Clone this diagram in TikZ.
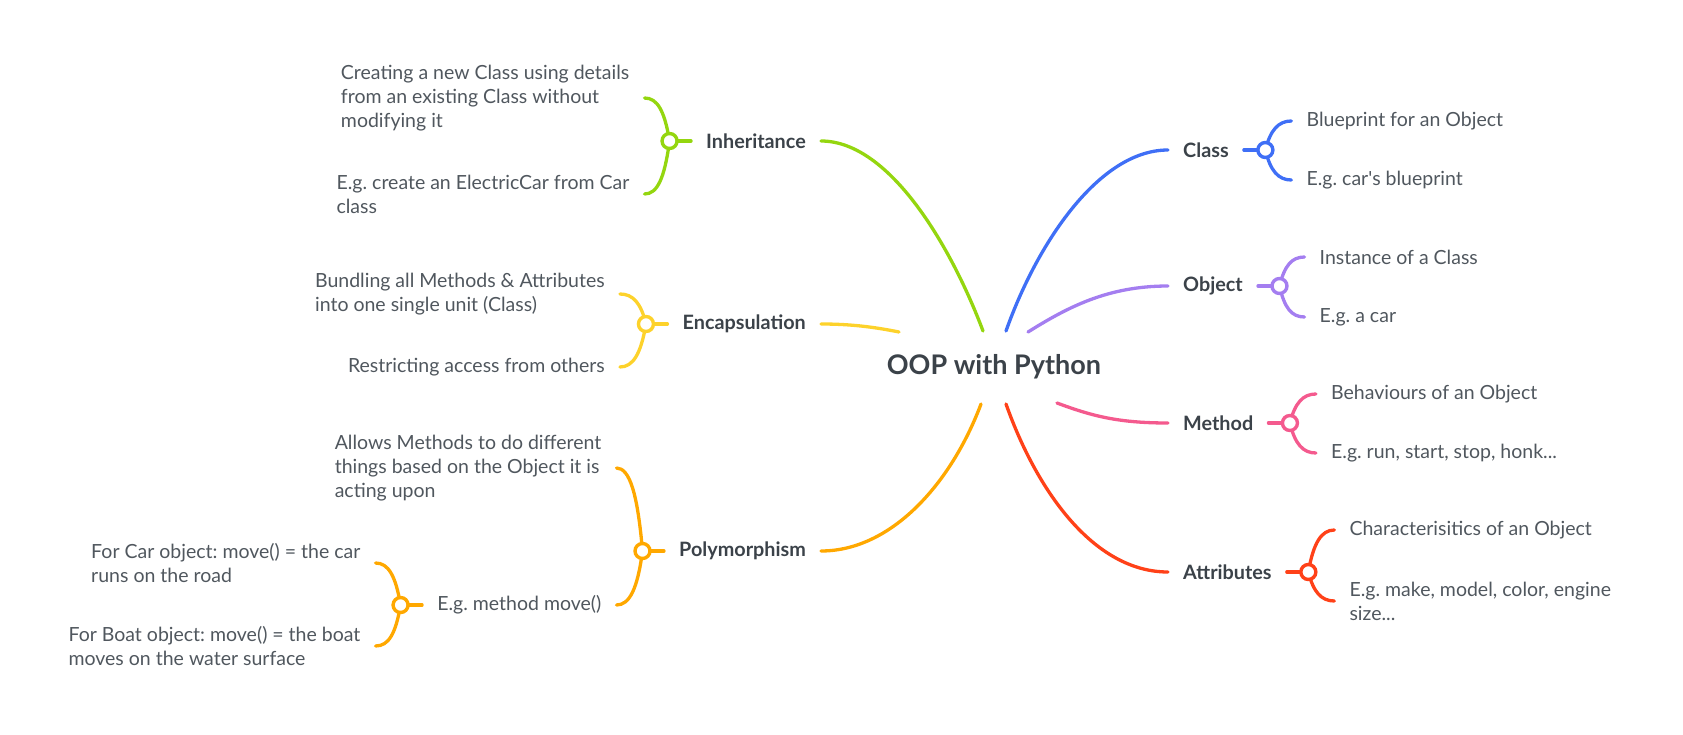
\documentclass[tikz,border=0pt]{standalone}
\usepackage{fontspec}
\setmainfont{Lato}
\usetikzlibrary{positioning, calc, backgrounds}

\definecolor{ink}{HTML}{3B4249}
\definecolor{txt}{HTML}{50575E}
\definecolor{cgreen}{HTML}{94D60F}
\definecolor{cblue}{HTML}{3F6FF6}
\definecolor{cpurple}{HTML}{A47EF0}
\definecolor{cyellow}{HTML}{FDD22B}
\definecolor{cpink}{HTML}{F45A8E}
\definecolor{corange}{HTML}{FFA800}
\definecolor{cred}{HTML}{FF4118}

\begin{document}
\frenchspacing
\begin{tikzpicture}[x=1pt, y=-1pt,
  root/.style={font=\fontsize{27}{30}\selectfont\bfseries, text=ink, inner sep=0pt},
  topic/.style={font=\fontsize{19.8}{22}\selectfont\bfseries, text=ink,
                inner xsep=15pt, inner ysep=0pt},
  leaf/.style={font=\fontsize{19.5}{24}\selectfont, text=txt, align=left,
               inner xsep=15pt, inner ysep=0pt},
  knot/.style={circle, draw=#1, fill=white, line width=3.4pt,
               minimum size=15pt, inner sep=0pt, outer sep=0pt},
  branch/.style={draw=#1, line width=3.3pt, line cap=round}
]
\useasboundingbox (0,0) rectangle (1683,735);

% centre
\node[root] (root) at (994,367) {OOP with Python};
\coordinate (r-inh) at (983,331);
\coordinate (r-cls) at (1006,331);
\coordinate (r-obj) at (1028,332);
\coordinate (r-enc) at (899,332);
\coordinate (r-pol) at (981,404);
\coordinate (r-att) at (1006,404);
\coordinate (r-mth) at (1057,403);

% right side
\node[topic, anchor=west] (cls) at (1168,150) {Class};
\node[topic, anchor=west] (obj) at (1168,286) {Object};
\node[topic, anchor=west] (mth) at (1168,423) {Method};
\node[topic, anchor=west] (att) at (1168,572) {Attributes};
\node[knot=cblue, right=14pt of cls] (cls-o) {};
\node[knot=cpurple, right=14pt of obj] (obj-o) {};
\node[knot=cpink, right=14pt of mth] (mth-o) {};
\node[knot=cred, right=14pt of att] (att-o) {};

\node[leaf, anchor=west] (cls-a) at ($(cls-o)+(26,-29)$) {Blueprint for an Object};
\node[leaf, anchor=west] (cls-b) at ($(cls-o)+(26,30)$) {E.g. car\textquotesingle s blueprint};
\node[leaf, anchor=west] (obj-a) at ($(obj-o)+(25,-29)$) {Instance of a Class};
\node[leaf, anchor=west] (obj-b) at ($(obj-o)+(25,31)$) {E.g. a car};
\node[leaf, anchor=west] (mth-a) at ($(mth-o)+(26,-29)$) {Behaviours of an Object};
\node[leaf, anchor=west] (mth-b) at ($(mth-o)+(26,30)$) {E.g. run, start, stop, honk...};
\node[leaf, anchor=west] (att-a) at ($(att-o)+(26,-42)$) {Characterisitics of an Object};
\node[leaf, anchor=west] (att-b) at ($(att-o)+(26,29)$) {E.g. make, model, color, engine\\size...};

% left side
\node[topic, anchor=east] (inh) at (821,141) {Inheritance};
\node[topic, anchor=east] (enc) at (821,324) {Encapsulation};
\node[topic, anchor=east] (pol) at (821,551) {Polymorphism};
\node[knot=cgreen, left=14pt of inh] (inh-o) {};
\node[knot=cyellow, left=14pt of enc] (enc-o) {};
\node[knot=corange, left=14pt of pol] (pol-o) {};

\node[leaf, anchor=east] (inh-a) at ($(inh-o)+(-25,-43)$) {Creating a new Class using details\\from an existing Class without\\modifying it};
\node[leaf, anchor=east] (inh-b) at ($(inh-o)+(-25,53)$) {E.g. create an ElectricCar from Car\\class};
\node[leaf, anchor=east] (enc-a) at ($(enc-o)+(-26,-30)$) {Bundling all Methods \& Attributes\\into one single unit (Class)};
\node[leaf, anchor=east] (enc-b) at ($(enc-o)+(-26,43)$) {Restricting access from others};
\node[leaf, anchor=east] (pol-a) at ($(pol-o)+(-26,-83)$) {Allows Methods to do different\\things based on the Object it is\\acting upon};
\node[leaf, anchor=east] (pol-b) at ($(pol-o)+(-26,54)$) {E.g. method move()};
\node[knot=corange, left=14pt of pol-b] (mov-o) {};
\node[leaf, anchor=east] (mov-a) at ($(mov-o)+(-25,-42)$) {For Car object: move() = the car\\runs on the road};
\node[leaf, anchor=east] (mov-b) at ($(mov-o)+(-25,41)$) {For Boat object: move() = the boat\\moves on the water surface};

\begin{scope}[on background layer]
% main branches
\draw[branch=cgreen] (inh.east) .. controls +(70,0) and +(-30,-80) .. (r-inh);
\draw[branch=cyellow] (enc.east) .. controls +(30,0) and +(-25,-5) .. (r-enc);
\draw[branch=corange] (pol.east) .. controls +(70,0) and +(-30,80) .. (r-pol);
\draw[branch=cblue] (r-cls) .. controls +(30,-85) and +(-70,0) .. (cls.west);
\draw[branch=cpurple] (r-obj) .. controls +(40,-25) and +(-60,0) .. (obj.west);
\draw[branch=cpink] (r-mth) .. controls +(35,13) and +(-50,0) .. (mth.west);
\draw[branch=cred] (r-att) .. controls +(30,85) and +(-75,0) .. (att.west);

% stems
\draw[branch=cblue] (cls.east) -- (cls-o);
\draw[branch=cpurple] (obj.east) -- (obj-o);
\draw[branch=cpink] (mth.east) -- (mth-o);
\draw[branch=cred] (att.east) -- (att-o);
\draw[branch=cgreen] (inh.west) -- (inh-o);
\draw[branch=cyellow] (enc.west) -- (enc-o);
\draw[branch=corange] (pol.west) -- (pol-o);
\draw[branch=corange] (pol-b.west) -- (mov-o);

% sub branches
\draw[branch=cblue] (cls-o.center) .. controls +(5,-20) and +(-13,0) .. (cls-a.west);
\draw[branch=cblue] (cls-o.center) .. controls +(5,21) and +(-13,0) .. (cls-b.west);
\draw[branch=cpurple] (obj-o.center) .. controls +(5,-20) and +(-13,0) .. (obj-a.west);
\draw[branch=cpurple] (obj-o.center) .. controls +(5,22) and +(-13,0) .. (obj-b.west);
\draw[branch=cpink] (mth-o.center) .. controls +(5,-20) and +(-13,0) .. (mth-a.west);
\draw[branch=cpink] (mth-o.center) .. controls +(5,21) and +(-13,0) .. (mth-b.west);
\draw[branch=cred] (att-o.center) .. controls +(5,-29) and +(-13,0) .. (att-a.west);
\draw[branch=cred] (att-o.center) .. controls +(5,20) and +(-13,0) .. (att-b.west);
\draw[branch=cgreen] (inh-o.center) .. controls +(-5,-30) and +(13,0) .. (inh-a.east);
\draw[branch=cgreen] (inh-o.center) .. controls +(-5,37) and +(13,0) .. (inh-b.east);
\draw[branch=cyellow] (enc-o.center) .. controls +(-5,-21) and +(13,0) .. (enc-a.east);
\draw[branch=cyellow] (enc-o.center) .. controls +(-5,30) and +(13,0) .. (enc-b.east);
\draw[branch=corange] (pol-o.center) .. controls +(-5,-58) and +(13,0) .. (pol-a.east);
\draw[branch=corange] (pol-o.center) .. controls +(-5,38) and +(13,0) .. (pol-b.east);
\draw[branch=corange] (mov-o.center) .. controls +(-5,-29) and +(13,0) .. (mov-a.east);
\draw[branch=corange] (mov-o.center) .. controls +(-5,29) and +(13,0) .. (mov-b.east);
\end{scope}
\end{tikzpicture}
\end{document}
